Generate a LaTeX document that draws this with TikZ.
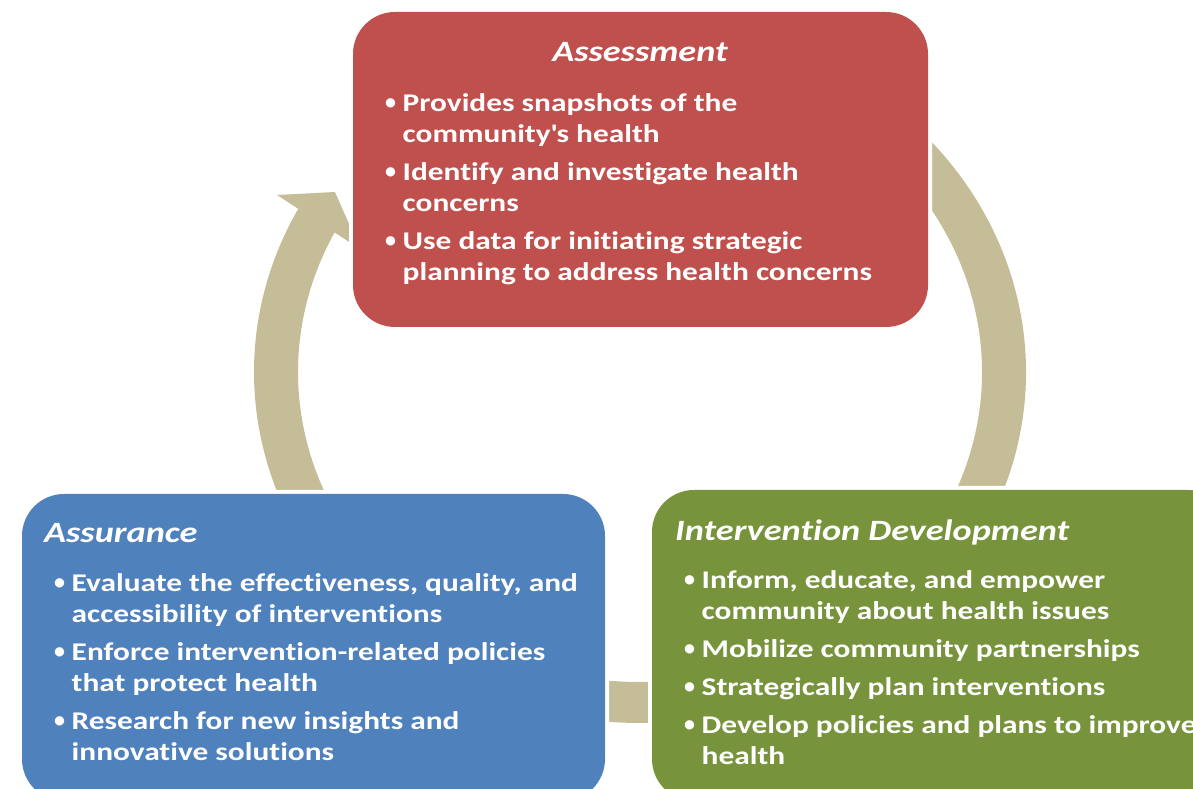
\documentclass[tikz,border=0pt]{standalone}
\usepackage{fontspec}
\setmainfont{Carlito}[FakeStretch=1.23, Ligatures=NoCommon]
\newfontfamily\bulletfont{Carlito}
\usetikzlibrary{positioning}
\definecolor{assessred}{HTML}{C0504D}
\definecolor{assureblue}{HTML}{4F81BD}
\definecolor{intervgreen}{HTML}{77933C}
\definecolor{cycletan}{HTML}{C4BD97}
\newcommand{\bul}{\makebox[18.5pt][l]{\hspace*{1pt}\raisebox{1.5pt}{\bulletfont\fontsize{22}{22}\selectfont\textbullet}}}
\newcommand{\ind}{\hspace*{18.5pt}}
\tikzset{
  phase/.style={rounded corners=42pt, fill=#1, preaction={draw=white, line width=8pt}},
  ring/.style={fill=cycletan},
  phasetitle/.style={text=white, inner sep=0pt, font=\fontsize{29.5}{35}\selectfont\bfseries\itshape},
  phaselist/.style={text=white, inner sep=0pt, align=left, anchor=north west,
    font=\fontsize{25.5}{31}\selectfont\bfseries},
}
\begin{document}
\begin{tikzpicture}[x=1pt, y=1pt]
  \useasboundingbox (0,0) rectangle (1193,789);
  \clip (0,0) rectangle (1193,789);
  \coordinate (c) at (640,417);
  % cycle arrows, mostly hidden under the boxes
  \fill[ring] ([shift={(55:386 and 351)}]c) arc[start angle=55, end angle=-25, x radius=386, y radius=351]
    -- ([shift={(-25:342 and 310)}]c) arc[start angle=-25, end angle=55, x radius=342, y radius=310] -- cycle;
  \fill[ring] ([shift={(-60:386 and 351)}]c) arc[start angle=-60, end angle=-120, x radius=386, y radius=351]
    -- ([shift={(-120:342 and 310)}]c) arc[start angle=-120, end angle=-60, x radius=342, y radius=310] -- cycle;
  \fill[ring] ([shift={(215:386 and 351)}]c) arc[start angle=215, end angle=151, x radius=386, y radius=351]
    -- ([shift={(151:342 and 310)}]c) arc[start angle=151, end angle=215, x radius=342, y radius=310] -- cycle;
  \coordinate (wingl) at (277,594);
  \coordinate (tip) at (335,597);
  \coordinate (wingr) at (360,540);
  \fill[ring] (wingl) -- (tip) -- (wingr) -- cycle;
  % phase boxes
  \fill[phase=assessred] (353,462) rectangle (928,777);
  \fill[phase=assureblue] (22,-12) rectangle (605,295);
  \fill[phase=intervgreen] (652,-12) rectangle (1230,299);
  % texts
  \node[phasetitle, anchor=base] (asmtitle) at (640,727) {Assessment};
  \node[phaselist] (asmlist) at (384,696) {%
    \bul Provides snapshots of the\\ \ind community\textquotesingle s health\\[7pt]
    \bul Identify and investigate health\\ \ind concerns\\[7pt]
    \bul Use data for initiating strategic\\ \ind planning to address health concerns};
  \node[phasetitle, anchor=base west] (asrtitle) at (44,246) {Assurance};
  \node[phaselist] (asrlist) at (53,216) {%
    \bul Evaluate the effectiveness, quality, and\\ \ind accessibility of interventions\\[7pt]
    \bul Enforce intervention-related policies\\ \ind that protect health\\[7pt]
    \bul Research for new insights and\\ \ind innovative solutions};
  \node[phasetitle, anchor=base west] (devtitle) at (675,248) {Intervention Development};
  \node[phaselist] (devlist) at (683,219) {%
    \bul Inform, educate, and empower\\ \ind community about health issues\\[7pt]
    \bul Mobilize community partnerships\\[7pt]
    \bul Strategically plan interventions\\[7pt]
    \bul Develop policies and plans to improve\\ \ind health};
\end{tikzpicture}
\end{document}
